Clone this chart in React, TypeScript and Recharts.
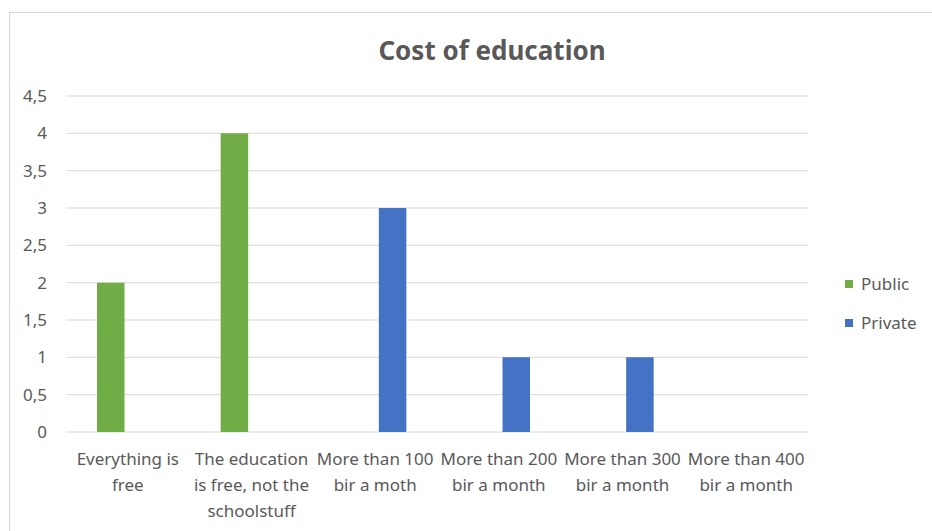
import React from "react"
import { BarChart, Bar, XAxis, YAxis, CartesianGrid, Legend } from "recharts"

const categories = [
  "Everything is free",
  "The education is free, not the schoolstuff",
  "More than 100 bir a moth",
  "More than 200 bir a month",
  "More than 300 bir a month",
  "More than 400 bir a month",
]
const tickLines = [
  ["Everything is", "free"],
  ["The education", "is free, not the", "schoolstuff"],
  ["More than 100", "bir a moth"],
  ["More than 200", "bir a month"],
  ["More than 300", "bir a month"],
  ["More than 400", "bir a month"],
]
const seriesNames = ["Public", "Private"]
const publicValues = [2, 4, 0, 0, 0, 0]
const privateValues = [0, 0, 3, 1, 1, 0]
const yTicks = [0, 0.5, 1, 1.5, 2, 2.5, 3, 3.5, 4, 4.5]

const data = categories.map((c, i) => ({ category: c, Public: publicValues[i], Private: privateValues[i] }))

const FONT = "'Noto Sans', sans-serif"
const TEXT = "#595959"

function CategoryTick(props: any) {
  const { x, y, index } = props
  const lines = tickLines[index] || []
  return (
    <text x={x} y={y} textAnchor="middle" fill={TEXT} fontSize={17} fontFamily={FONT}>
      {lines.map((l, i) => (
        <tspan key={i} x={x} y={y + 33 + i * 26}>
          {l}
        </tspan>
      ))}
    </text>
  )
}

function LegendContent(props: any) {
  const items = [...(props.payload || [])].sort(
    (a: any, b: any) => seriesNames.indexOf(a.value) - seriesNames.indexOf(b.value)
  )
  return (
    <div style={{ fontFamily: FONT, fontSize: 17, color: TEXT }}>
      {items.map((p: any, i: number) => (
        <div key={i} style={{ display: "flex", alignItems: "center", height: 39 }}>
          <span style={{ width: 8, height: 8, background: p.color, display: "inline-block", marginRight: 8 }} />
          <span>{p.value}</span>
        </div>
      ))}
    </div>
  )
}

export default function App() {
  return (
    <div style={{ position: "absolute", left: 0, top: 0, width: 932, height: 531, background: "#fff" }}>
      <div
        style={{
          position: "absolute",
          left: 9,
          top: 12,
          right: 0,
          bottom: 0,
          borderTop: "1px solid #d9d9d9",
          borderLeft: "1px solid #d9d9d9",
        }}
      />
      <div
        style={{
          position: "absolute",
          left: 0,
          top: 33,
          width: 984,
          textAlign: "center",
          fontFamily: FONT,
          fontSize: 26,
          fontWeight: "bold",
          lineHeight: "34px",
          color: TEXT,
        }}
      >
        Cost of education
      </div>
      <BarChart
        width={932}
        height={531}
        data={data}
        margin={{ top: 96, right: 124, left: 10, bottom: 9 }}
        barSize={27.5}
        barGap={7}
        style={{ position: "absolute", left: 0, top: 0 }}
      >
        <CartesianGrid vertical={false} stroke="#d9d9d9" />
        <XAxis
          dataKey="category"
          axisLine={false}
          tickLine={false}
          tickSize={0}
          tickMargin={0}
          height={90}
          interval={0}
          tick={<CategoryTick />}
        />
        <YAxis
          width={56}
          domain={[0, 4.5]}
          ticks={yTicks}
          axisLine={false}
          tickLine={false}
          tickSize={0}
          tickMargin={19}
          tick={{ fill: TEXT, fontSize: 17, fontFamily: FONT }}
          tickFormatter={(v) => String(v).replace(".", ",")}
        />
        <Legend
          layout="vertical"
          align="center"
          verticalAlign="middle"
          content={<LegendContent />}
          wrapperStyle={{ left: 845, top: 264, width: 90 }}
        />
        <Bar dataKey="Public" name={seriesNames[0]} fill="#70AD47" isAnimationActive={false} />
        <Bar dataKey="Private" name={seriesNames[1]} fill="#4472C4" isAnimationActive={false} />
      </BarChart>
    </div>
  )
}
